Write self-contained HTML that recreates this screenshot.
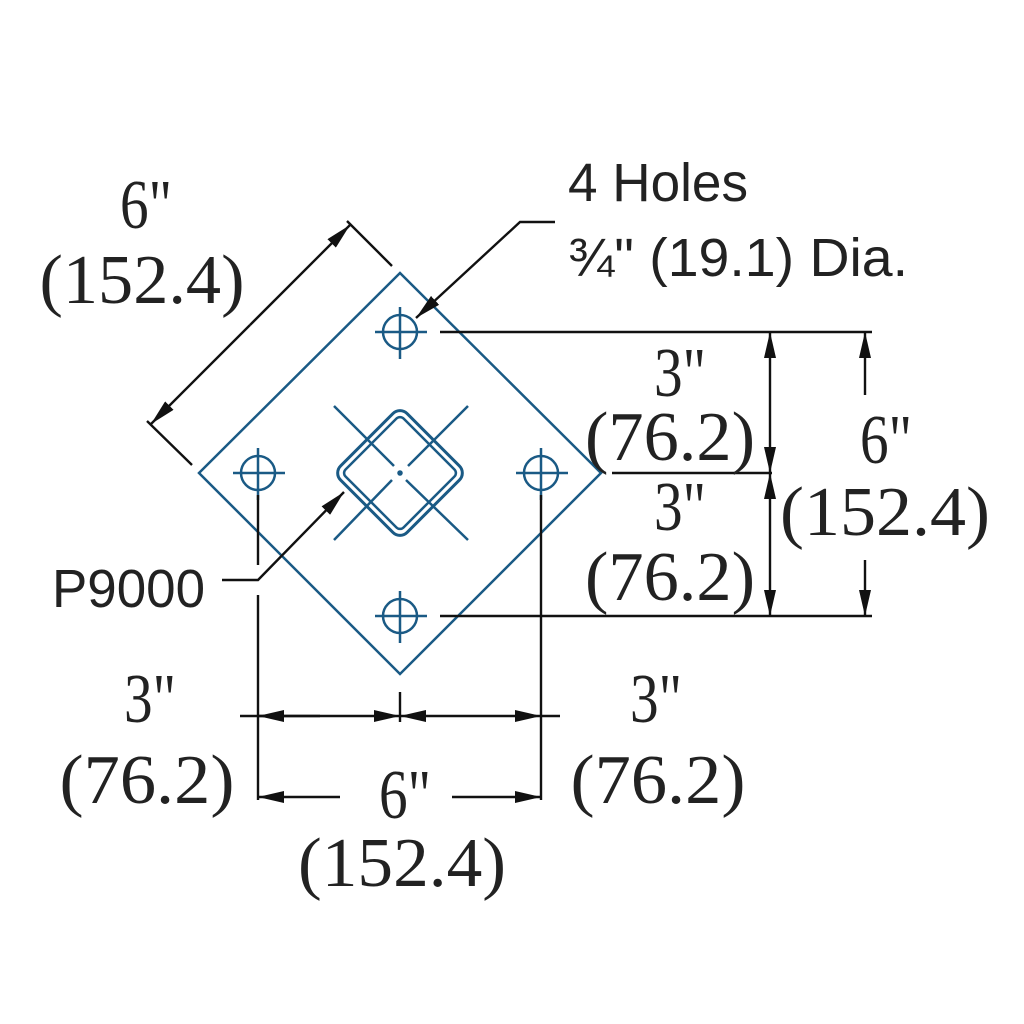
<!DOCTYPE html>
<html><head><style>body{margin:0;background:#fff}svg{display:block}</style></head><body>
<svg width="1024" height="1024" viewBox="0 0 1024 1024" xmlns="http://www.w3.org/2000/svg">
<defs>
<marker id="a" viewBox="0 0 26 12" refX="26" refY="6" markerWidth="26" markerHeight="12" markerUnits="userSpaceOnUse" orient="auto"><path d="M0,0 L26,6 L0,12 Z" fill="#111"/></marker>
</defs>
<g fill="none" stroke="#1a5a85" stroke-width="2.5">
<path d="M400,273 L601,473 L400,674 L199,473 Z"/>
<g id="h"><circle cx="400" cy="332" r="17"/><path d="M375,332H427M400,307V359"/></g>
<use href="#h" x="-142" y="141"/><use href="#h" x="141" y="141"/><use href="#h" x="0" y="284"/>
<rect x="353" y="426" width="94" height="94" rx="10" transform="rotate(45 400 473)" stroke-width="3"/>
<rect x="359" y="432" width="82" height="82" rx="5" transform="rotate(45 400 473)"/>
<path d="M334,406L394,466M406,480L468,540M468,406L408,466M392,480L334,540"/>
<circle cx="400" cy="473" r="1.5" fill="#1a5a85"/>
</g>
<g fill="none" stroke="#111" stroke-width="2.4">
<path d="M147,421L192,465M347,221L392,266"/>
<path d="M250,325L151,424" marker-end="url(#a)"/><path d="M250,325L350,225" marker-end="url(#a)"/>
<path d="M555,222H520L416,318" marker-end="url(#a)"/>
<path d="M222,580H258L344,492" marker-end="url(#a)"/>
<path d="M440,332H872M612,473H772M440,616H872"/>
<path d="M770,400L770,332" marker-end="url(#a)"/><path d="M770,400L770,473" marker-end="url(#a)"/>
<path d="M770,545L770,473" marker-end="url(#a)"/><path d="M770,545L770,616" marker-end="url(#a)"/>
<path d="M865,395L865,332" marker-end="url(#a)"/><path d="M865,560L865,616" marker-end="url(#a)"/>
<path d="M258,495V565M258,595V800M541,495V800M400,692V722"/>
<path d="M240,716H330" /><path d="M320,716H258" marker-end="url(#a)"/>
<path d="M330,716H400" marker-end="url(#a)"/><path d="M470,716H400" marker-end="url(#a)"/>
<path d="M470,716H541" marker-end="url(#a)"/><path d="M541,716H560"/>
<path d="M340,797H258" marker-end="url(#a)"/><path d="M452,797H541" marker-end="url(#a)"/>
</g>
<g font-family="'Liberation Serif',serif" font-size="70" fill="#222" text-anchor="middle">
<text x="146" y="228" textLength="52" lengthAdjust="spacingAndGlyphs">6"</text>
<text x="142" y="303" textLength="205" lengthAdjust="spacingAndGlyphs">(152.4)</text>
<text x="680" y="396" textLength="52" lengthAdjust="spacingAndGlyphs">3"</text>
<text x="670" y="460" textLength="170" lengthAdjust="spacingAndGlyphs">(76.2)</text>
<text x="680" y="530" textLength="52" lengthAdjust="spacingAndGlyphs">3"</text>
<text x="670" y="600" textLength="170" lengthAdjust="spacingAndGlyphs">(76.2)</text>
<text x="886" y="463" textLength="52" lengthAdjust="spacingAndGlyphs">6"</text>
<text x="885" y="535" textLength="210" lengthAdjust="spacingAndGlyphs">(152.4)</text>
<text x="150" y="722" textLength="52" lengthAdjust="spacingAndGlyphs">3"</text>
<text x="147" y="803" textLength="175" lengthAdjust="spacingAndGlyphs">(76.2)</text>
<text x="656" y="722" textLength="52" lengthAdjust="spacingAndGlyphs">3"</text>
<text x="658" y="803" textLength="175" lengthAdjust="spacingAndGlyphs">(76.2)</text>
<text x="405" y="818" textLength="52" lengthAdjust="spacingAndGlyphs">6"</text>
<text x="402" y="886" textLength="208" lengthAdjust="spacingAndGlyphs">(152.4)</text>
</g>
<g font-family="'Liberation Sans',sans-serif" font-size="54" fill="#222">
<text x="568" y="201" textLength="180" lengthAdjust="spacingAndGlyphs">4 Holes</text>
<text x="568" y="276" textLength="340" lengthAdjust="spacingAndGlyphs">¾" (19.1) Dia.</text>
<text x="52" y="607" textLength="153" lengthAdjust="spacingAndGlyphs">P9000</text>
</g>
</svg>
</body></html>
